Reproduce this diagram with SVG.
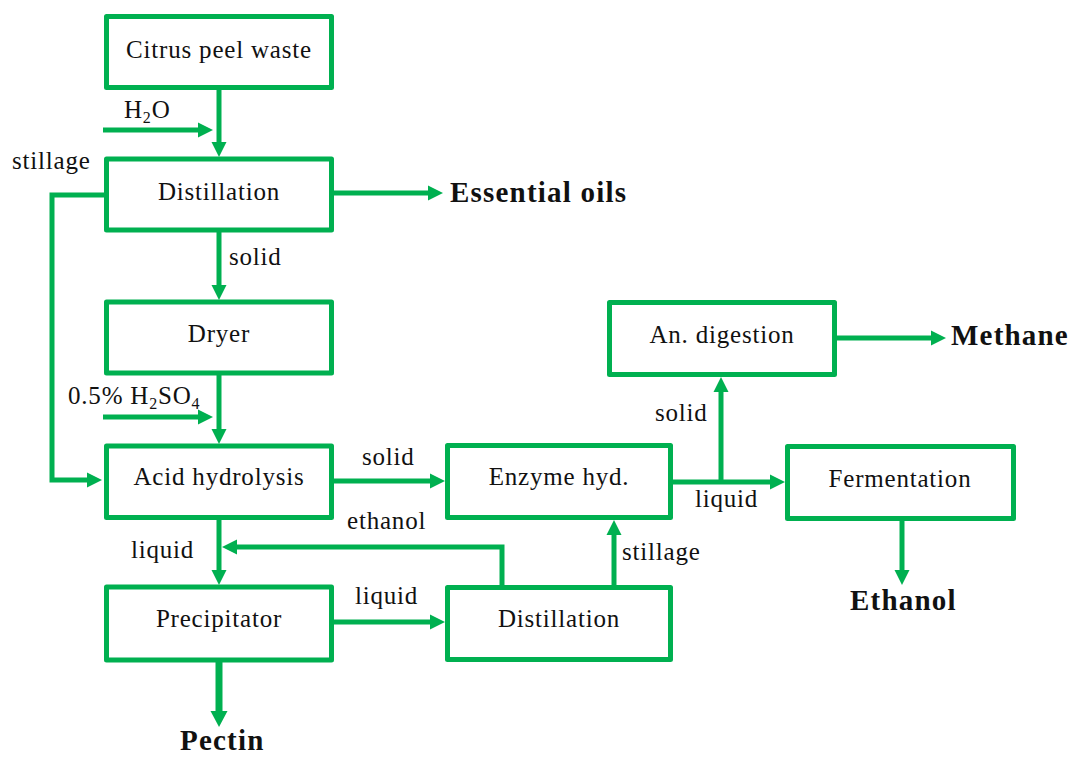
<svg xmlns="http://www.w3.org/2000/svg" width="1070" height="758" viewBox="0 0 1070 758">
<style>
.box{fill:#fff;stroke:#00b050;stroke-width:5;stroke-linejoin:round}
.ln{fill:none;stroke:#00b050;stroke-width:5}
.t{font-family:"Liberation Serif",serif;font-size:25px;letter-spacing:0.8px;fill:#111}
.c{text-anchor:middle}
.b{font-family:"Liberation Serif",serif;font-size:29px;font-weight:bold;letter-spacing:1.2px;fill:#111}
</style>
<defs>
<marker id="ah" markerUnits="userSpaceOnUse" markerWidth="16" markerHeight="16" refX="0" refY="7.5" orient="auto" overflow="visible">
<path d="M0,0 L15,7.5 L0,15 Z" fill="#00b050"/>
</marker>
<marker id="ahb" markerUnits="userSpaceOnUse" markerWidth="18" markerHeight="18" refX="0" refY="8.5" orient="auto" overflow="visible">
<path d="M0,0 L16,8.5 L0,17 Z" fill="#00b050"/>
</marker>
</defs>
<g id="connectors">
<path class="ln" d="M219,90 V142" marker-end="url(#ah)"/>
<path class="ln" d="M103,130 H198" marker-end="url(#ah)"/>
<path class="ln" d="M104,195 H52 V480 H87" marker-end="url(#ah)"/>
<path class="ln" d="M334,193 H428" marker-end="url(#ah)"/>
<path class="ln" d="M219,232 V285" marker-end="url(#ah)"/>
<path class="ln" d="M219,375 V429" marker-end="url(#ah)"/>
<path class="ln" d="M103,417 H198" marker-end="url(#ah)"/>
<path class="ln" d="M334,481 H430" marker-end="url(#ah)"/>
<path class="ln" d="M219,520 V570" marker-end="url(#ah)"/>
<path class="ln" d="M502,585 V547 H237" marker-end="url(#ah)"/>
<path class="ln" d="M334,622 H430" marker-end="url(#ah)"/>
<path class="ln" d="M614,585 V535" marker-end="url(#ah)"/>
<path class="ln" d="M673,482 H770" marker-end="url(#ah)"/>
<path class="ln" d="M721,482 V392" marker-end="url(#ah)"/>
<path class="ln" d="M837,338 H931" marker-end="url(#ah)"/>
<path class="ln" d="M902,521 V570" marker-end="url(#ah)"/>
<path class="ln" style="stroke-width:7" d="M219,662 V711" marker-end="url(#ahb)"/>
</g>
<g id="labels">
<text class="t" x="124" y="118">H<tspan font-size="16" dy="5">2</tspan><tspan dy="-5">O</tspan></text>
<text class="t" x="12" y="169">stillage</text>
<text class="t" x="229" y="265">solid</text>
<text class="t" x="68" y="404">0.5% H<tspan font-size="16" dy="5">2</tspan><tspan dy="-5">SO</tspan><tspan font-size="16" dy="5">4</tspan></text>
<text class="t" x="362" y="465">solid</text>
<text class="t" x="347" y="529">ethanol</text>
<text class="t" x="131" y="558">liquid</text>
<text class="t" x="355" y="604">liquid</text>
<text class="t" x="622" y="560">stillage</text>
<text class="t" x="655" y="421">solid</text>
<text class="t" x="695" y="507">liquid</text>
<text class="b" x="450" y="202">Essential oils</text>
<text class="b" x="951" y="345">Methane</text>
<text class="b" x="850" y="610">Ethanol</text>
<text class="b" x="180" y="750">Pectin</text>
</g>
<g id="citrus"><rect class="box" x="106.5" y="16.5" width="225" height="71"/><text class="t c" x="219" y="58">Citrus peel waste</text></g>
<g id="distillation1"><rect class="box" x="106.5" y="159" width="225" height="71"/><text class="t c" x="219" y="200">Distillation</text></g>
<g id="dryer"><rect class="box" x="106.5" y="302" width="225" height="71"/><text class="t c" x="219" y="342">Dryer</text></g>
<g id="acid"><rect class="box" x="106.5" y="446" width="225" height="71.5"/><text class="t c" x="219" y="485">Acid hydrolysis</text></g>
<g id="precipitator"><rect class="box" x="106.5" y="587" width="225" height="73"/><text class="t c" x="219" y="627">Precipitator</text></g>
<g id="enzyme"><rect class="box" x="447.5" y="445.5" width="223" height="72"/><text class="t c" x="559" y="485">Enzyme hyd.</text></g>
<g id="distillation2"><rect class="box" x="447.5" y="587.5" width="223" height="72"/><text class="t c" x="559" y="627">Distillation</text></g>
<g id="digestion"><rect class="box" x="609.5" y="302.5" width="225" height="72"/><text class="t c" x="722" y="343">An. digestion</text></g>
<g id="fermentation"><rect class="box" x="787.5" y="446.5" width="226" height="72"/><text class="t c" x="900" y="487">Fermentation</text></g>
</svg>
